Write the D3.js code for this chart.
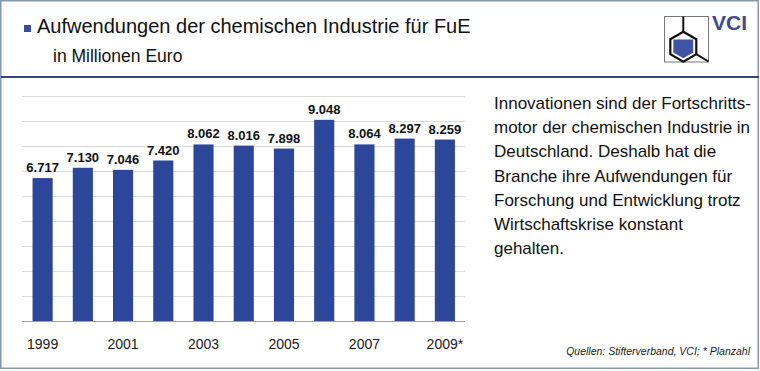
<!DOCTYPE html>
<html><head><meta charset="utf-8">
<script src="https://cdn.jsdelivr.net/npm/d3@7"></script>
<style>body{margin:0;background:#fff}svg{display:block}</style>
</head><body>
<svg id="c" width="760" height="371"></svg>
<script>
const years = ["1999","2000","2001","2002","2003","2004","2005","2006","2007","2008","2009*"];
const values = [6717, 7130, 7046, 7420, 8062, 8016, 7898, 9048, 8064, 8297, 8259];
const valueLabels = ["6.717","7.130","7.046","7.420","8.062","8.016","7.898","9.048","8.064","8.297","8.259"];
const tickYears = ["1999","2001","2003","2005","2007","2009*"];
const gridValues = [1000,2000,3000,4000,5000,6000,7000,8000,9000,10000];
const title = "Aufwendungen der chemischen Industrie für FuE";
const subtitle = "in Millionen Euro";
const bodyLines = ["Innovationen sind der Fortschritts-","motor der chemischen Industrie in","Deutschland. Deshalb hat die","Branche ihre Aufwendungen für","Forschung und Entwicklung trotz","Wirtschaftskrise konstant","gehalten."];
const source = "Quellen: Stifterverband, VCI; * Planzahl";

const svg = d3.select("#c");
const F = "Arial, 'Liberation Sans', sans-serif";

// frame
svg.append("rect").attr("x",0.75).attr("y",0.75).attr("width",757.5).attr("height",367.5)
  .attr("fill","#fff").attr("stroke","#8596B2").attr("stroke-width",1.5);
svg.append("line").attr("x1",1).attr("x2",759).attr("y1",77).attr("y2",77)
  .attr("stroke","#34477A").attr("stroke-width",2);

// title
svg.append("rect").attr("x",24).attr("y",25).attr("width",7).attr("height",7).attr("fill","#3B4D9A");
svg.append("text").attr("x",37).attr("y",33).attr("font-family",F).attr("font-size",20)
  .attr("fill","#111").text(title);
svg.append("text").attr("x",53).attr("y",62).attr("font-family",F).attr("font-size",17.5)
  .attr("fill","#111").text(subtitle);

// logo
const lg = svg.append("g");
lg.append("rect").attr("x",664.5).attr("y",16.5).attr("width",44).attr("height",45.5)
  .attr("fill","none").attr("stroke","#777").attr("stroke-width",1);
const cx=683.3, cy=46.7, r=15;
const hex = d3.range(6).map(i=>{const a=-Math.PI/2+i*Math.PI/3;return [cx+r*Math.cos(a), cy+r*Math.sin(a)];});
lg.append("line").attr("x1",cx).attr("x2",cx).attr("y1",16.5).attr("y2",hex[0][1]).attr("stroke","#111").attr("stroke-width",2);
lg.append("line").attr("x1",hex[2][0]).attr("y1",hex[2][1]).attr("x2",708.5).attr("y2",61.5).attr("stroke","#111").attr("stroke-width",2);
lg.append("polygon").attr("points",hex.map(p=>p.join(",")).join(" ")).attr("fill","#fff").attr("stroke","#111").attr("stroke-width",2.2);
const ri=11.5;
const inner = d3.range(6).map(i=>{const a=-Math.PI/2+i*Math.PI/3;return [cx+ri*Math.cos(a), cy+ri*Math.sin(a)];});
const topY = inner[1][1]-1.5;
const blue = [[inner[5][0],topY],[inner[1][0],topY],inner[2],inner[3],inner[4]];
lg.append("polygon").attr("points",blue.map(p=>p.join(",")).join(" ")).attr("fill","#4154A3");
lg.append("text").attr("x",712).attr("y",29.5).attr("font-family","'Liberation Sans Narrow', Arial Narrow, sans-serif")
  .attr("font-weight","bold").attr("font-size",21).attr("fill","#3D4C8F").text("VCI");

// chart
const x = d3.scaleBand().domain(years).range([22.5,465]).paddingInner(0.5).paddingOuter(0.25);
const y = d3.scaleLinear().domain([1000,10000]).range([321,96]);

svg.append("g").selectAll("line").data(gridValues.slice(1)).join("line")
  .attr("x1",22).attr("x2",465).attr("y1",d=>Math.round(y(d))+0.5).attr("y2",d=>Math.round(y(d))+0.5)
  .attr("stroke","#DCDCDC").attr("stroke-width",1);

svg.append("g").selectAll("rect").data(values).join("rect")
  .attr("x",(d,i)=>x(years[i])).attr("width",x.bandwidth())
  .attr("y",d=>y(d)).attr("height",d=>y(1000)-y(d)).attr("fill","#2C4799");

svg.append("line").attr("x1",22).attr("x2",465).attr("y1",321.5).attr("y2",321.5)
  .attr("stroke","#A0A0A0").attr("stroke-width",1);

svg.append("g").selectAll("text").data(values).join("text")
  .attr("x",(d,i)=>x(years[i])+x.bandwidth()/2).attr("y",d=>y(d)-6)
  .attr("text-anchor","middle").attr("font-family",F).attr("font-weight","bold").attr("font-size",13)
  .attr("fill","#111").text((d,i)=>valueLabels[i]);

const xAxis = d3.axisBottom(x).tickValues(tickYears).tickSize(0).tickPadding(0);
const ax = svg.append("g").attr("transform","translate(0,349)").call(xAxis);
ax.select(".domain").remove();
ax.selectAll("text").attr("dy",0).attr("font-family",F).attr("font-size",14).attr("fill","#1a1a1a");

// body text
svg.append("g").selectAll("text").data(bodyLines).join("text")
  .attr("x",494).attr("y",(d,i)=>109+i*24.2).attr("font-family",F).attr("font-size",17)
  .attr("fill","#111").text(d=>d);

svg.append("text").attr("x",750).attr("y",355).attr("text-anchor","end").attr("font-family",F)
  .attr("font-style","italic").attr("font-size",10.5).attr("fill","#222").text(source);
</script>
</body></html>
